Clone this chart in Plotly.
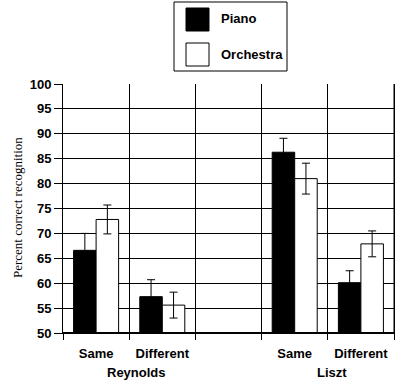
import plotly.graph_objects as go

# Data
conditions = ["Same", "Different", "", "Same", "Different"]
x_pos = [0, 1, 3, 4]
cond_labels = ["Same", "Different", "Same", "Different"]
groups = ["Reynolds", "Liszt"]
piano = [66.6, 57.3, 86.3, 60.1]
piano_err = [3.4, 3.4, 2.8, 2.4]
orchestra = [72.8, 55.6, 81.0, 67.9]
orchestra_err = [2.9, 2.6, 3.1, 2.6]
series_names = ["Piano", "Orchestra"]

W, H = 400, 383
L, R, T, B = 63, 6, 84, 50
pw, ph = W - L - R, H - T - B


def px_x(px):
    return (px - L) / pw


def px_y(py):
    return (H - B - py) / ph


FONT = "Liberation Sans, Arial, sans-serif"

fig = go.Figure()
fig.add_trace(go.Bar(
    x=x_pos, y=piano, name=series_names[0],
    marker=dict(color="black", line=dict(color="black", width=1)),
    error_y=dict(type="data", array=piano_err, color="black", thickness=1, width=4),
    showlegend=False,
))
fig.add_trace(go.Bar(
    x=x_pos, y=orchestra, name=series_names[1],
    marker=dict(color="white", line=dict(color="black", width=1)),
    error_y=dict(type="data", array=orchestra_err, color="black", thickness=1, width=4),
    showlegend=False,
))

fig.update_layout(
    width=W, height=H,
    margin=dict(l=L, r=R, t=T, b=B, pad=0),
    plot_bgcolor="white", paper_bgcolor="white",
    barmode="group", bargap=0.32, bargroupgap=0,
    font=dict(family=FONT, size=13, color="black", weight="bold"),
    xaxis=dict(
        range=[-0.5, 4.5],
        tickvals=list(range(len(conditions))),
        ticktext=conditions,
        ticks="outside", ticklen=0, tickcolor="rgba(0,0,0,0)",
        ticklabelstandoff=8,
        showgrid=False, zeroline=False,
        showline=True, linecolor="black", linewidth=1, mirror=False,
        minor=dict(tick0=0.5, dtick=1, showgrid=True, gridcolor="black",
                   gridwidth=1, ticks="outside", ticklen=6, tickcolor="black",
                   tickwidth=1),
        tickfont=dict(family=FONT, size=13, color="black", weight="bold"),
    ),
    yaxis=dict(
        range=[50, 100], dtick=5, tick0=50,
        ticks="outside", ticklen=8, tickcolor="black", tickwidth=1,
        showgrid=True, gridcolor="black", gridwidth=1,
        zeroline=False,
        showline=True, linecolor="black", linewidth=1, mirror=True,
        tickfont=dict(family=FONT, size=13, color="black", weight="bold"),
    ),
)

shapes = []
# thick base line
shapes.append(dict(type="line", xref="paper", yref="paper", x0=0, x1=1, y0=0, y1=0,
                   line=dict(color="black", width=2), layer="above"))
# right frame edge
shapes.append(dict(type="line", xref="paper", yref="paper", x0=1, x1=1, y0=0, y1=1,
                   line=dict(color="black", width=1)))
# legend box
shapes.append(dict(type="rect", xref="paper", yref="paper",
                   x0=px_x(174), x1=px_x(287), y0=px_y(71), y1=px_y(2),
                   line=dict(color="black", width=1), fillcolor="white"))
shapes.append(dict(type="rect", xref="paper", yref="paper",
                   x0=px_x(186), x1=px_x(209), y0=px_y(31), y1=px_y(8),
                   line=dict(color="black", width=1), fillcolor="black"))
shapes.append(dict(type="rect", xref="paper", yref="paper",
                   x0=px_x(186), x1=px_x(209), y0=px_y(66), y1=px_y(43),
                   line=dict(color="black", width=1), fillcolor="white"))

annotations = [
    dict(text=series_names[0], xref="paper", yref="paper", x=px_x(219), y=px_y(18),
         xanchor="left", yanchor="middle", showarrow=False),
    dict(text=series_names[1], xref="paper", yref="paper", x=px_x(219), y=px_y(54),
         xanchor="left", yanchor="middle", showarrow=False),
    dict(text=groups[0], xref="paper", yref="paper", x=px_x(136), y=px_y(372),
         xanchor="center", yanchor="middle", showarrow=False),
    dict(text=groups[1], xref="paper", yref="paper", x=px_x(332), y=px_y(372),
         xanchor="center", yanchor="middle", showarrow=False),
    dict(text="Percent correct recognition", xref="paper", yref="paper",
         x=px_x(17), y=px_y(208), xanchor="center", yanchor="middle",
         textangle=-90, showarrow=False,
         font=dict(family="Liberation Serif, Times New Roman, serif", size=13,
                   color="black", weight="normal")),
]

fig.update_layout(shapes=shapes, annotations=annotations)
fig.write_html("out.html")
